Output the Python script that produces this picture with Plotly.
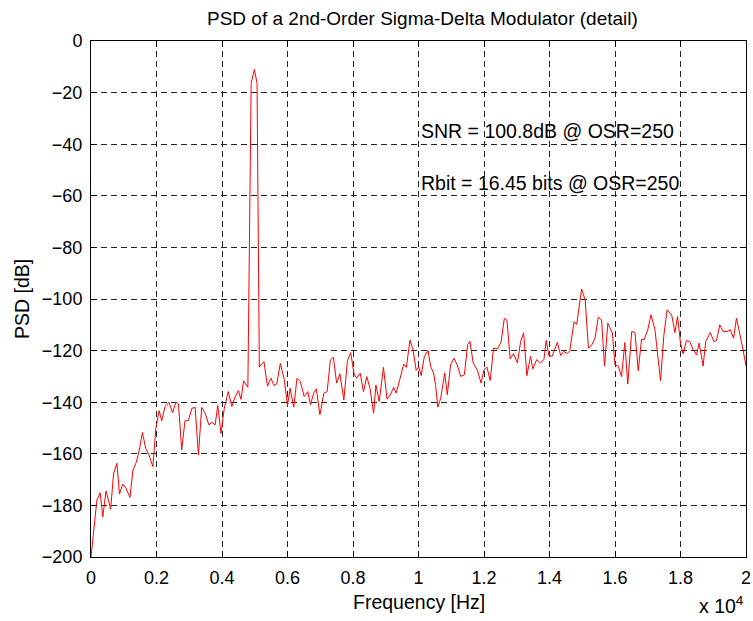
import plotly.graph_objects as go

# Noise-shaped spectrum of the modulator output, 0 .. 20 kHz
freq_hz = [
    0, 180, 280, 360, 460, 600, 690, 790, 870, 970, 1070, 1190, 1280, 1380, 1470,
    1570, 1670, 1770, 1890, 1980, 2080, 2160, 2260, 2380, 2490, 2590, 2670, 2770,
    2870, 2970, 3080, 3180, 3280, 3380, 3480, 3600, 3690, 3790, 3870, 3970, 4070,
    4190, 4300, 4400, 4500, 4580, 4660, 4790, 4890, 4990, 5070, 5140, 5210, 5280,
    5390, 5490, 5590, 5670, 5780, 5900, 6000, 6080, 6190, 6290, 6390, 6510, 6620,
    6700, 6800, 6880, 6990, 7110, 7210, 7310, 7400, 7500, 7600, 7720, 7830, 7930,
    8030, 8110, 8220, 8320, 8420, 8520, 8630, 8700, 8800, 8930, 9040, 9140, 9240,
    9320, 9430, 9550, 9630, 9740, 9830, 9930, 10010, 10080, 10180, 10290, 10370,
    10460, 10520, 10590, 10680, 10800, 10880, 10980, 11080, 11180, 11290, 11400,
    11500, 11570, 11670, 11800, 11910, 12000, 12090, 12190, 12290, 12410, 12520,
    12620, 12700, 12800, 12900, 13020, 13120, 13210, 13310, 13420, 13490, 13610,
    13720, 13830, 13900, 13980, 14080, 14240, 14340, 14440, 14540, 14620, 14750,
    14830, 14980, 15090, 15190, 15290, 15390, 15490, 15590, 15680, 15780, 15920,
    16000, 16100, 16200, 16300, 16390, 16510, 16610, 16710, 16810, 16890, 17000,
    17100, 17220, 17390, 17490, 17590, 17730, 17830, 17910, 18000, 18080, 18180,
    18280, 18390, 18490, 18570, 18690, 18770, 18910, 19020, 19100, 19200, 19300,
    19420, 19520, 19620, 19710, 19810, 19910, 20000,
]

psd_db = [
    -200.0, -177.9, -175.1, -184.4, -174.4, -181.5, -167.6, -163.7, -175.6, -171.7,
    -173.4, -176.9, -166.3, -163.4, -158.9, -151.7, -157.9, -160.5, -165.0, -150.1,
    -143.3, -147.2, -141.7, -140.0, -144.1, -140.0, -140.7, -158.5, -147.2, -147.2,
    -142.4, -142.0, -160.5, -142.0, -144.1, -148.8, -147.8, -148.8, -141.3, -152.1,
    -142.4, -135.9, -141.7, -137.9, -135.5, -138.9, -131.7, -134.2, -16.4, -11.0,
    -16.4, -126.4, -125.2, -124.3, -133.8, -130.7, -133.5, -133.0, -125.0, -131.1,
    -141.4, -134.6, -141.9, -130.7, -132.0, -137.8, -135.9, -141.0, -136.5, -134.8,
    -144.9, -136.5, -135.9, -123.6, -122.6, -132.6, -129.0, -139.1, -123.9, -120.8,
    -128.8, -130.7, -128.8, -135.9, -130.1, -134.6, -144.3, -133.3, -139.7, -126.5,
    -138.8, -137.2, -134.2, -136.5, -131.1, -125.2, -126.5, -115.9, -119.5, -127.7,
    -126.3, -129.7, -122.2, -119.9, -126.1, -128.7, -133.2, -141.9, -138.4, -128.7,
    -137.1, -125.5, -122.9, -125.5, -130.0, -129.4, -117.7, -116.4, -124.8, -127.7,
    -132.6, -127.4, -126.4, -131.6, -119.0, -119.4, -116.8, -107.5, -108.2, -123.2,
    -121.2, -124.8, -116.4, -113.1, -129.7, -122.2, -127.1, -123.5, -124.8, -123.5,
    -116.0, -121.9, -122.2, -116.8, -121.9, -120.3, -121.2, -120.0, -108.8, -109.9,
    -96.1, -100.5, -119.1, -117.8, -115.2, -107.0, -108.1, -126.0, -109.4, -113.2,
    -125.6, -126.0, -130.1, -116.9, -133.0, -112.6, -113.0, -127.8, -115.6, -115.8,
    -111.9, -106.1, -111.9, -131.7, -114.3, -104.2, -106.1, -113.0, -106.8, -117.1,
    -121.3, -116.1, -116.5, -119.7, -121.7, -117.1, -126.0, -116.5, -113.0, -116.5,
    -116.1, -110.0, -112.6, -112.6, -111.9, -115.2, -107.4, -113.2, -119.7, -126.0,
]

x_tick_vals = [0, 2000, 4000, 6000, 8000, 10000, 12000, 14000, 16000, 18000, 20000]
x_tick_text = ["0", "0.2", "0.4", "0.6", "0.8", "1", "1.2", "1.4", "1.6", "1.8", "2"]
y_tick_vals = [0, -20, -40, -60, -80, -100, -120, -140, -160, -180, -200]

snr_text = "SNR = 100.8dB @ OSR=250"
rbit_text = "Rbit = 16.45 bits @ OSR=250"

FONT = "Liberation Sans, Arial, Helvetica, sans-serif"
FS_TICK = 18
FS_TITLE = 19
FS_LABEL = 19.5
FS_NOTE = 19.5

fig = go.Figure()
fig.add_trace(go.Scatter(
    x=freq_hz, y=psd_db, mode="lines",
    line=dict(color="#ff0000", width=1),
    hoverinfo="skip",
))

axis_common = dict(
    showline=True, linecolor="black", linewidth=1, mirror="allticks",
    ticks="inside", ticklen=6, tickcolor="black", tickwidth=1,
    showgrid=True, gridcolor="#222222", gridwidth=1, griddash="6px,4px",
    zeroline=False, automargin=False,
    tickfont=dict(family=FONT, size=FS_TICK, color="black"),
)

fig.update_layout(
    width=753, height=621,
    margin=dict(l=91, r=7, t=41, b=64, autoexpand=False),
    paper_bgcolor="white", plot_bgcolor="white",
    showlegend=False,
    font=dict(family=FONT, size=FS_TICK, color="black"),
    xaxis=dict(range=[0, 20000], tickvals=x_tick_vals, ticktext=x_tick_text,
               ticklabelstandoff=4, **axis_common),
    yaxis=dict(range=[-200, 0], tickvals=y_tick_vals,
               ticklabelstandoff=4, **axis_common),
    annotations=[
        dict(text="PSD of a 2nd-Order Sigma-Delta Modulator (detail)",
             xref="paper", yref="paper", x=0.5, y=1, yshift=23, xshift=4,
             xanchor="center", yanchor="middle", showarrow=False,
             font=dict(family=FONT, size=FS_TITLE)),
        dict(text="Frequency [Hz]", xref="paper", yref="paper", x=0.5, y=0,
             yshift=-45, xanchor="center", yanchor="middle", showarrow=False,
             font=dict(family=FONT, size=FS_LABEL)),
        dict(text="PSD [dB]", xref="paper", yref="paper", x=0, y=0.5,
             xshift=-69, xanchor="center", yanchor="middle", textangle=-90,
             showarrow=False, font=dict(family=FONT, size=FS_LABEL)),
        dict(text="x 10<sup>4</sup>", xref="paper", yref="paper", x=1, y=0,
             yshift=-48, xanchor="right", yanchor="middle", showarrow=False,
             font=dict(family=FONT, size=FS_LABEL)),
        dict(text=snr_text, x=10000, y=-35, xref="x", yref="y",
             xanchor="left", yanchor="middle", showarrow=False,
             font=dict(family=FONT, size=FS_NOTE)),
        dict(text=rbit_text, x=10000, y=-55, xref="x", yref="y",
             xanchor="left", yanchor="middle", showarrow=False,
             font=dict(family=FONT, size=FS_NOTE)),
    ],
)

fig.write_html("out.html")
